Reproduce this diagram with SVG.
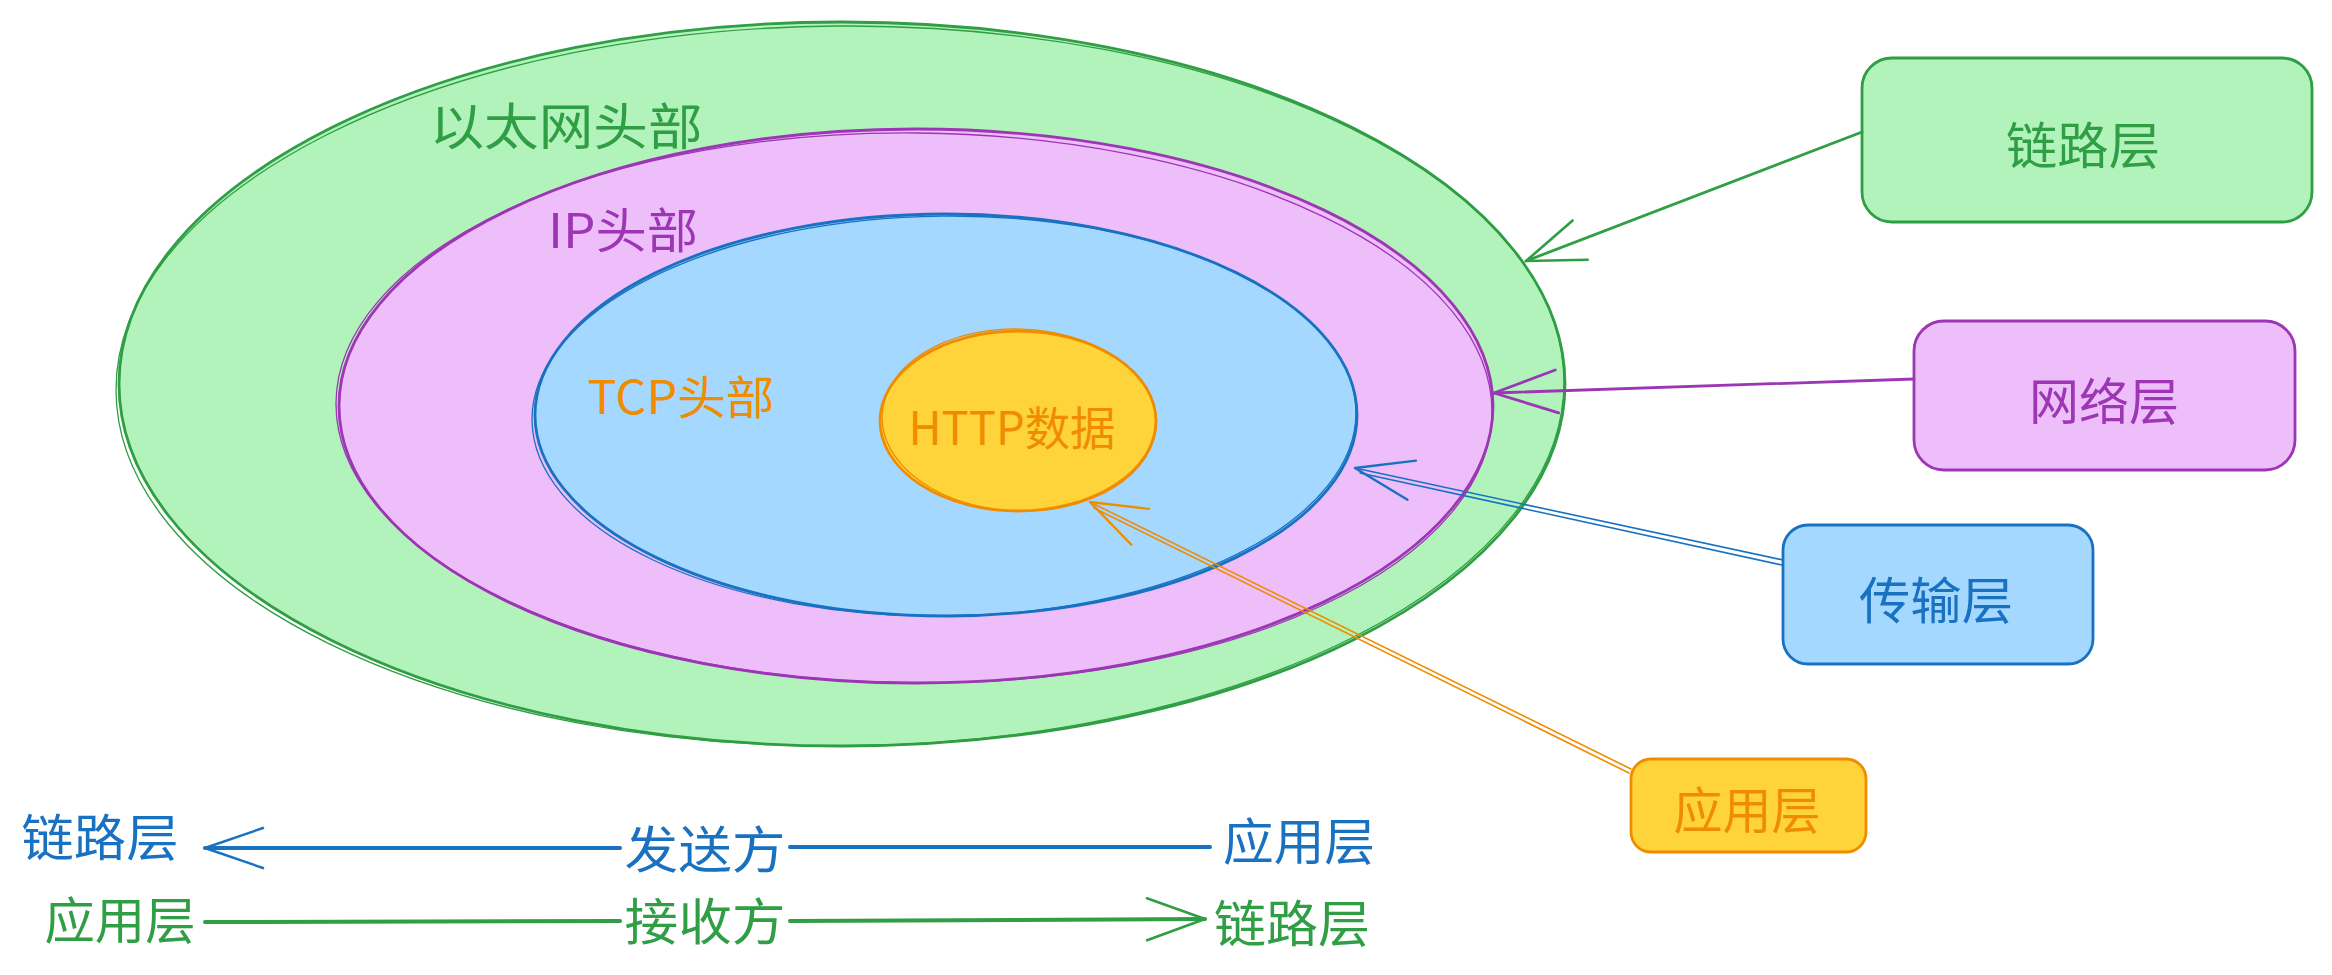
<svg xmlns="http://www.w3.org/2000/svg" width="2332" height="975" viewBox="0 0 2332 975">
<style>
  text { font-family: "Noto Sans CJK SC", "Liberation Sans", sans-serif; text-anchor: middle; dominant-baseline: central; }
  .g { fill: #2f9e44; } .p { fill: #9c36b5; } .b { fill: #1971c2; } .o { fill: #f08c00; }
  .sg { stroke: #2f9e44; } .sp { stroke: #9c36b5; } .sb { stroke: #1971c2; } .so { stroke: #f08c00; }
  .main { stroke-width: 2.8; stroke-linecap: round; stroke-linejoin: round; }
  .thin { fill: none; stroke-width: 1.3; }
  .line { fill: none; stroke-width: 2.8; stroke-linecap: round; }
  .leg { fill: none; stroke-width: 4; stroke-linecap: round; }
  .dbl { fill: none; stroke-width: 1.6; stroke-linecap: round; }
</style>
<defs>
  <marker id="ag" markerUnits="userSpaceOnUse" orient="auto" refX="0" refY="0" markerWidth="80" markerHeight="60" overflow="visible"><path d="M -58 -21 L 0 0 L -58 21" fill="none" stroke="#2f9e44" stroke-width="2.6" stroke-linecap="round" stroke-linejoin="round"/></marker>
  <marker id="ap" markerUnits="userSpaceOnUse" orient="auto" refX="0" refY="0" markerWidth="80" markerHeight="60" overflow="visible"><path d="M -64 -22 L 0 0 L -62 21" fill="none" stroke="#9c36b5" stroke-width="2.8" stroke-linecap="round" stroke-linejoin="round"/></marker>
  <marker id="ab" markerUnits="userSpaceOnUse" orient="auto" refX="0" refY="0" markerWidth="80" markerHeight="60" overflow="visible"><path d="M -58 -20 L 0 0 L -58 20" fill="none" stroke="#1971c2" stroke-width="2.4" stroke-linecap="round" stroke-linejoin="round"/></marker>
  <marker id="ao" markerUnits="userSpaceOnUse" orient="auto" refX="0" refY="0" markerWidth="80" markerHeight="60" overflow="visible"><path d="M -56 -20 L 0 0 L -56 20" fill="none" stroke="#f08c00" stroke-width="2.4" stroke-linecap="round" stroke-linejoin="round"/></marker>
</defs>

<g id="ethernet">
  <ellipse cx="842" cy="384" rx="723" ry="362" fill="#b2f2bb" class="sg main"/>
  <ellipse cx="840" cy="386" rx="724" ry="360" class="sg thin" transform="rotate(-0.4 842 384)"/>
  <text x="566" y="123" font-size="50" textLength="273" lengthAdjust="spacingAndGlyphs" class="g">以太网头部</text>
</g>

<g id="ip">
  <ellipse cx="916" cy="406" rx="577" ry="277" fill="#eebefa" class="sp main"/>
  <ellipse cx="914" cy="408" rx="578" ry="275" class="sp thin" transform="rotate(0.5 916 406)"/>
  <text x="623" y="227" font-size="48" textLength="150" lengthAdjust="spacingAndGlyphs" class="p">IP头部</text>
</g>

<g id="tcp">
  <ellipse cx="946" cy="415" rx="411" ry="201" fill="#a5d8ff" class="sb main"/>
  <ellipse cx="944" cy="416" rx="412" ry="200" class="sb thin" transform="rotate(-0.6 946 415)"/>
  <text x="681" y="394" font-size="46" textLength="187" lengthAdjust="spacingAndGlyphs" class="o">TCP头部</text>
</g>

<g id="http">
  <ellipse cx="1018" cy="421" rx="138" ry="90" fill="#ffd43b" class="so main"/>
  <ellipse cx="1019" cy="420" rx="137" ry="91" class="so thin" transform="rotate(2 1018 421)"/>
  <text x="1012" y="425" font-size="46" textLength="207" lengthAdjust="spacingAndGlyphs" class="o">HTTP数据</text>
</g>

<g id="link-layer">
  <rect x="1862" y="58" width="450" height="164" rx="30" fill="#b2f2bb" class="sg main"/>
  <text x="2083" y="142" font-size="50" textLength="154" lengthAdjust="spacingAndGlyphs" class="g">链路层</text>
</g>

<g id="network-layer">
  <rect x="1914" y="321" width="381" height="149" rx="30" fill="#eebefa" class="sp main"/>
  <text x="2104" y="398" font-size="50" textLength="150" lengthAdjust="spacingAndGlyphs" class="p">网络层</text>
</g>

<g id="transport-layer">
  <rect x="1783" y="525" width="310" height="139" rx="25" fill="#a5d8ff" class="sb main"/>
  <text x="1936" y="597" font-size="50" textLength="154" lengthAdjust="spacingAndGlyphs" class="b">传输层</text>
</g>

<g id="application-layer">
  <rect x="1631" y="759" width="235" height="93" rx="20" fill="#ffd43b" class="so main"/>
  <text x="1747" y="807" font-size="50" textLength="147" lengthAdjust="spacingAndGlyphs" class="o">应用层</text>
</g>

<g id="connectors">
  <path d="M 1862 132 L 1526 261" class="sg line" marker-end="url(#ag)"/>
  <path d="M 1914 379 L 1494 393" class="sp line" marker-end="url(#ap)"/>
  <path d="M 1783 560 L 1355 468" class="sb dbl" marker-end="url(#ab)"/>
  <path d="M 1782 565 L 1360 473" class="sb dbl"/>
  <path d="M 1631 769 L 1090 502" class="so dbl" marker-end="url(#ao)"/>
  <path d="M 1629 773 L 1094 508" class="so dbl"/>
</g>

<g id="legend-send">
  <text x="100" y="834" font-size="50" textLength="157" lengthAdjust="spacingAndGlyphs" class="b">链路层</text>
  <text x="705" y="846" font-size="50" textLength="161" lengthAdjust="spacingAndGlyphs" class="b">发送方</text>
  <text x="1299" y="838" font-size="50" textLength="152" lengthAdjust="spacingAndGlyphs" class="b">应用层</text>
  <path d="M 1210 847 L 790 847" class="sb leg"/>
  <path d="M 620 848 L 205 848" class="sb leg" marker-end="url(#ab)"/>
</g>

<g id="legend-receive">
  <text x="120" y="917" font-size="50" textLength="151" lengthAdjust="spacingAndGlyphs" class="g">应用层</text>
  <text x="705" y="918" font-size="50" textLength="161" lengthAdjust="spacingAndGlyphs" class="g">接收方</text>
  <text x="1292" y="920" font-size="50" textLength="156" lengthAdjust="spacingAndGlyphs" class="g">链路层</text>
  <path d="M 205 922 L 620 921" class="sg leg"/>
  <path d="M 790 921 L 1205 919" class="sg leg" marker-end="url(#ag)"/>
</g>
</svg>
